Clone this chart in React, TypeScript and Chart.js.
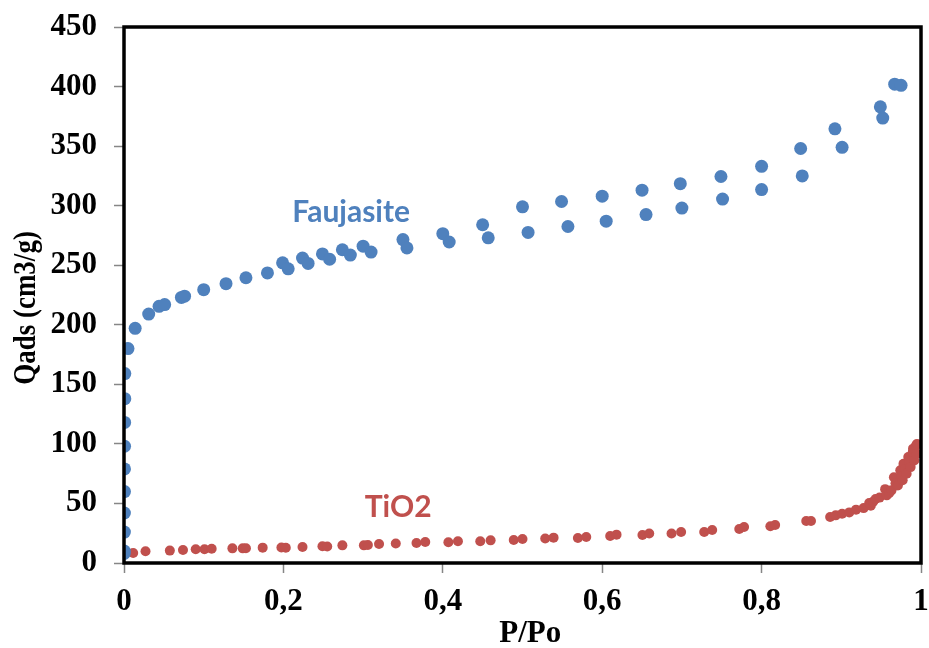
import React, { useEffect, useRef } from "react";
import { Chart, registerables } from "chart.js";

Chart.register(...registerables);

// Faujasite isotherm (P/Po, Qads)
const faujasiteX = [
  0.0003, 0.0004, 0.0005, 0.0005, 0.0006, 0.0006, 0.0007, 0.0008, 0.001, 0.001,
  0.005, 0.014, 0.031, 0.044, 0.051, 0.072, 0.076, 0.1, 0.128, 0.153, 0.18,
  0.199, 0.206, 0.224, 0.231, 0.249, 0.258, 0.274, 0.284, 0.3, 0.31, 0.35, 0.355,
  0.4, 0.408, 0.45, 0.457, 0.5, 0.507, 0.549, 0.557, 0.6, 0.605, 0.65, 0.655,
  0.698, 0.7, 0.749, 0.751, 0.8, 0.8, 0.849, 0.851, 0.892, 0.901, 0.949, 0.952,
  0.967, 0.975,
];
const faujasiteY = [
  8, 10, 26, 42, 60, 79, 98, 118, 138, 159,
  180, 197, 209, 215.5, 217, 223, 224, 229.5, 234.5, 239.5, 243.5,
  252, 247, 256, 251.5, 259.5, 255, 263, 258.5, 266, 261, 271.5, 264.5,
  276.5, 269.5, 284, 273, 299, 277.5, 303.5, 282.5, 308, 287, 313, 292.5,
  318.5, 298, 324.5, 305.5, 333, 313.5, 348, 325, 364.5, 349, 383, 373.5,
  402, 401,
];

// TiO2 isotherm (P/Po, Qads)
const tio2X = [
  0.0115, 0.027, 0.0575, 0.074, 0.09, 0.101, 0.11, 0.136, 0.149, 0.153, 0.174,
  0.1975, 0.203, 0.224, 0.249, 0.255, 0.274, 0.301, 0.306, 0.32, 0.341, 0.367,
  0.378, 0.407, 0.419, 0.447, 0.46, 0.489, 0.5, 0.5285, 0.539, 0.5695, 0.58,
  0.61, 0.618, 0.6505, 0.659, 0.687, 0.699, 0.728, 0.738, 0.772, 0.778, 0.811,
  0.817, 0.856, 0.862, 0.886, 0.893, 0.901, 0.91, 0.9185, 0.928, 0.937, 0.935,
  0.94, 0.943, 0.948, 0.955, 0.957, 0.96, 0.963, 0.966, 0.968, 0.971, 0.974,
  0.975, 0.977, 0.978, 0.98, 0.982, 0.984, 0.985, 0.987, 0.9896, 0.99, 0.9916,
  0.9937, 0.9947, 0.995,
];
const tio2Y = [
  8.4, 9.8, 10.4, 10.9, 11.5, 11.5, 12, 12.3, 12.3, 12.4, 12.9,
  13, 12.8, 13.4, 14, 13.9, 14.8, 14.8, 15.1, 16, 16.3, 16.8,
  17.6, 17.4, 18.2, 18.2, 19, 19.3, 20.1, 20.5, 21.3, 21, 21.8,
  22.7, 23.8, 23.5, 24.7, 24.7, 26, 26, 27.7, 28.5, 30.2, 30.8,
  31.9, 35.2, 35.2, 38.6, 40, 41.4, 42.5, 44.8, 46.1, 48.1, 50.3,
  51.5, 53.7, 54.9, 62, 56.8, 58.5, 61, 72, 67, 65, 77.8,
  73, 69.4, 83.4, 79, 75, 89, 85, 80.5, 93, 96, 86,
  98.7, 91.8, 100,
];

const xTickLabels = ["0", "0,2", "0,4", "0,6", "0,8", "1"];
const yTickValues = [0, 50, 100, 150, 200, 250, 300, 350, 400, 450];

const seriesNames = ["Faujasite", "TiO2"];
const labelPositions = [
  { x: 0.285, y: 294 },
  { x: 0.344, y: 46.5 },
];
const xTitle = "P/Po";
const yTitle = "Qads (cm3/g)";

const BLUE = "#4F81BD";
const RED = "#C0504D";
const SERIF = "'Liberation Serif', 'Times New Roman', serif";

export default function App() {
  const ref = useRef<HTMLCanvasElement | null>(null);

  useEffect(() => {
    if (!ref.current) return;
    const toPts = (xs: number[], ys: number[]) => xs.map((x, i) => ({ x, y: ys[i] }));

    const framePlugin = {
      id: "frameAndLabels",
      afterDatasetsDraw(chart: any) {
        const { ctx, chartArea, scales } = chart;
        ctx.save();
        ctx.strokeStyle = "#000";
        ctx.lineWidth = 3.5;
        ctx.strokeRect(chartArea.left, chartArea.top, chartArea.right - chartArea.left, chartArea.bottom - chartArea.top);
        ctx.font = "bold 30px Lato, 'Open Sans', sans-serif";
        ctx.textAlign = "center";
        ctx.textBaseline = "middle";
        const colors = [BLUE, RED];
        seriesNames.forEach((name, i) => {
          ctx.fillStyle = colors[i];
          ctx.fillText(name, scales.x.getPixelForValue(labelPositions[i].x), scales.y.getPixelForValue(labelPositions[i].y));
        });
        ctx.restore();
      },
      afterDraw(chart: any) {
        const { ctx, chartArea } = chart;
        ctx.save();
        ctx.translate(27, (chartArea.top + chartArea.bottom) / 2 + 13);
        ctx.rotate(-Math.PI / 2);
        ctx.scale(1, 1.15);
        ctx.font = `bold 27px ${SERIF}`;
        ctx.fillStyle = "#000";
        ctx.textAlign = "center";
        ctx.textBaseline = "middle";
        ctx.fillText(yTitle, 0, 0);
        ctx.restore();
      },
    };

    const chart = new Chart(ref.current, {
      type: "scatter",
      data: {
        datasets: [
          {
            label: seriesNames[0],
            data: toPts(faujasiteX, faujasiteY),
            backgroundColor: BLUE,
            borderColor: BLUE,
            borderWidth: 0,
            pointRadius: 6.5,
          },
          {
            label: seriesNames[1],
            data: toPts(tio2X, tio2Y),
            backgroundColor: RED,
            borderColor: RED,
            borderWidth: 0,
            pointRadius: 5,
          },
        ],
      },
      options: {
        responsive: false,
        animation: false,
        events: [],
        layout: { padding: { left: 0, right: 8, top: 27, bottom: 0 } },
        plugins: { legend: { display: false }, tooltip: { enabled: false } },
        scales: {
          x: {
            type: "linear",
            min: 0,
            max: 1,
            afterBuildTicks: (scale: any) => {
              scale.ticks = xTickLabels.map((_, i) => ({ value: i * 0.2 }));
            },
            afterFit: (scale: any) => {
              scale.height = 85;
              scale.paddingLeft = 0;
              scale.paddingRight = 0;
            },
            grid: { drawOnChartArea: false, drawTicks: true, tickLength: 10, tickColor: "#868686", tickWidth: 1.5 },
            border: { display: false },
            ticks: {
              padding: 10,
              color: "#000",
              font: { family: SERIF, size: 31, weight: "bold" },
              maxRotation: 0,
              callback: (_v: any, i: number) => xTickLabels[i],
            },
            title: {
              display: true,
              text: "  " + xTitle,
              color: "#000",
              font: { family: SERIF, size: 31, weight: "bold", lineHeight: 1 },
              padding: { top: 0, bottom: -1 },
            },
          },
          y: {
            type: "linear",
            min: 0,
            max: 450,
            afterBuildTicks: (scale: any) => {
              scale.ticks = yTickValues.map((v) => ({ value: v }));
            },
            afterFit: (scale: any) => {
              scale.width = 124;
              scale.paddingTop = 0;
              scale.paddingBottom = 0;
            },
            grid: { drawOnChartArea: false, drawTicks: true, tickLength: 10, tickColor: "#868686", tickWidth: 1.5 },
            border: { display: false },
            ticks: {
              padding: 17,
              color: "#000",
              font: { family: SERIF, size: 31, weight: "bold" },
              callback: (v: any) => String(v),
            },
            title: { display: false },
          },
        },
      },
      plugins: [framePlugin],
    } as any);

    return () => chart.destroy();
  }, []);

  return (
    <div style={{ position: "fixed", left: 0, top: 0, width: 929, height: 648, background: "#fff" }}>
      <canvas ref={ref} width={929} height={648} />
    </div>
  );
}
